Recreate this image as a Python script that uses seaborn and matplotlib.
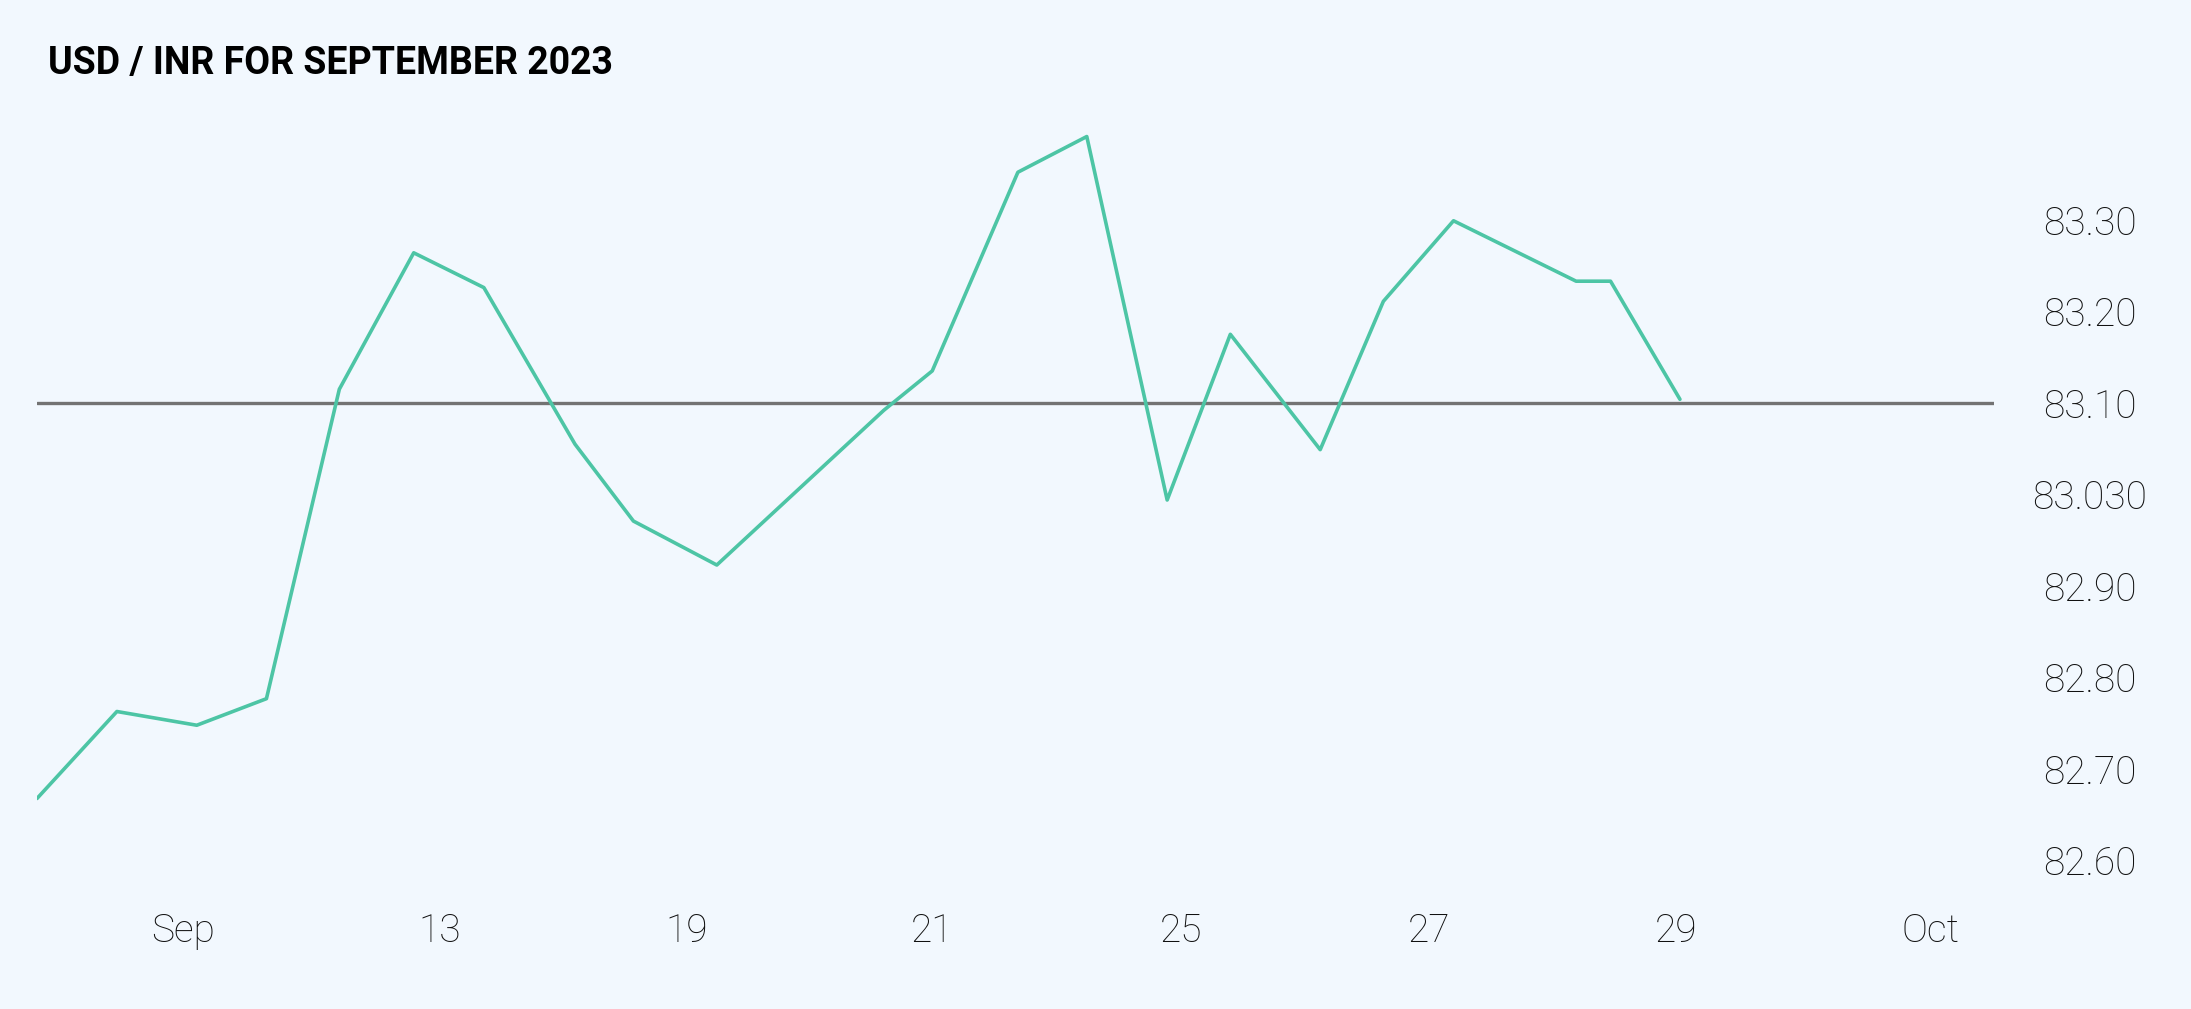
import matplotlib
matplotlib.use('Agg')
import matplotlib.pyplot as plt
import seaborn as sns
import pandas as pd

# ==========================
# DATA
# ==========================
# x positions in tick units (0 = "Sep", 7 = "Oct")
x_pos = [-0.584, -0.264, 0.056, 0.335, 0.627, 0.925, 1.206, 1.571, 1.805, 2.139,
         2.808, 3.002, 3.345, 3.621, 3.943, 4.196, 4.556, 4.809, 5.090, 5.581,
         5.719, 5.997]
usd_inr = [82.668, 82.763, 82.748, 82.777, 83.115, 83.264, 83.226, 83.055, 82.971, 82.923,
           83.092, 83.135, 83.352, 83.391, 82.994, 83.175, 83.049, 83.211, 83.299, 83.233,
           83.233, 83.104]
ref_level = 83.10

x_ticks = [0, 1.03, 2.02, 3.0, 4.0, 4.99, 5.98, 7]
x_labels = ['Sep', '13', '19', '21', '25', '27', '29', 'Oct']
y_ticks = [82.60, 82.70, 82.80, 82.90, 83.00, 83.10, 83.20, 83.30]
y_labels = ['82.60', '82.70', '82.80', '82.90', '83.030', '83.10', '83.20', '83.30']

df = pd.DataFrame({'x': x_pos, 'rate': usd_inr})

BG = '#F2F8FE'
TEAL = '#4DC5A5'
GREY = '#737373'

# ==========================
# PLOT
# ==========================
sns.set_style('white')
plt.rcParams['font.family'] = ['Roboto', 'DejaVu Sans']

fig = plt.figure(figsize=(21.91 / 2, 10.09 / 2), dpi=200, facecolor=BG)
ax = fig.add_axes([0.01689, 0.1179, 0.8932, 0.7731])
ax.set_facecolor(BG)

ax.axhline(ref_level, color=GREY, lw=1.2, zorder=1)
sns.lineplot(data=df, x='x', y='rate', color=TEAL, lw=1.3, ax=ax, zorder=2)

ax.set_xlim(-0.584, 7.255)
ax.set_ylim(82.568, 83.42)

ax.set_xticks(x_ticks)
ax.set_xticklabels(x_labels, fontsize=14, fontweight='light', color='#111111')
ax.yaxis.tick_right()
ax.set_yticks(y_ticks)
ax.set_yticklabels(y_labels, fontsize=14, fontweight='light', color='#111111', ha='center')
ax.tick_params(axis='y', length=0, pad=34.5)
ax.tick_params(axis='x', length=0, pad=8)

ax.set_xlabel('')
ax.set_ylabel('')
for s in ax.spines.values():
    s.set_visible(False)

fig.text(48 / 2191, 1 - 63 / 1009, 'USD / INR FOR SEPTEMBER 2023', fontsize=13.5,
         fontweight='bold', color='#000000', va='center', ha='left')

fig.savefig('out.png', dpi=200, facecolor=BG)
